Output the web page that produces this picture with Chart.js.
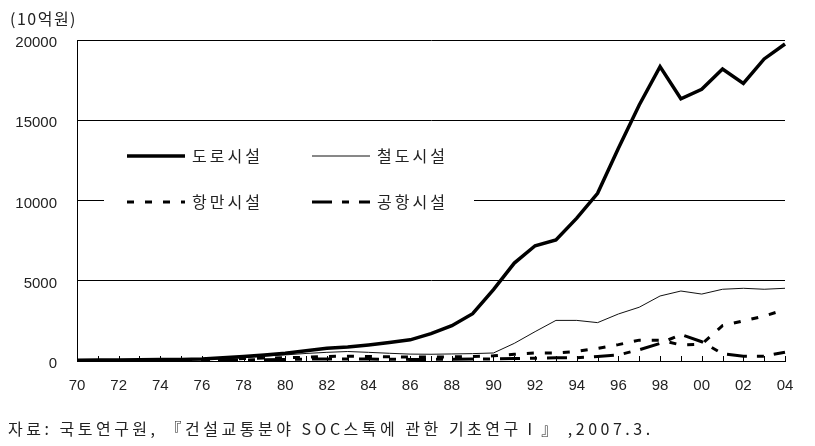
<!DOCTYPE html>
<html>
<head>
<meta charset="utf-8">
<script src="https://cdn.jsdelivr.net/npm/chart.js@4.4.1/dist/chart.umd.min.js"></script>
<style>
  body { margin: 0; background: #fff; }
  #wrap { position: relative; width: 815px; height: 446px; }
  #c { position: absolute; left: 0; top: 0; }
  .unit { position: absolute; left: 10px; top: 6px; font: 16px "Noto Sans CJK KR", sans-serif; color: #222; letter-spacing: 1.5px; }
  .src { position: absolute; left: 8px; top: 416px; font: 16px "Noto Sans CJK KR", sans-serif; color: #222; letter-spacing: 3.5px; white-space: nowrap; }
</style>
</head>
<body>
<div id="wrap">
  <canvas id="c" width="815" height="446"></canvas>
  <div class="unit">(10억원)</div>
  <div class="src">자료: 국토연구원, 『건설교통분야 SOC스톡에 관한 기초연구Ⅰ』 ,2007.3.</div>
</div>
<script>
// years 1970 - 2004, labels shown as two digits
const years = ["70","71","72","73","74","75","76","77","78","79","80","81","82","83","84","85","86","87","88","89",
               "90","91","92","93","94","95","96","97","98","99","00","01","02","03","04"];

// 단위: 10억원
const road =    [50,60,70,80,90,100,130,200,280,380,480,640,800,870,1000,1150,1320,1700,2200,2950,
                 4450,6100,7180,7540,8900,10450,13250,15950,18340,16340,16930,18190,17300,18820,19750];
const rail =    [20,30,40,50,60,70,90,130,200,300,380,470,540,590,540,480,430,420,440,460,
                 500,1100,1830,2530,2530,2390,2930,3350,4050,4360,4170,4470,4530,4470,4530];
const port =    [20,25,30,40,50,60,80,110,150,180,200,230,280,300,280,260,250,250,260,280,
                 320,420,500,500,600,780,1020,1300,1300,1000,1050,2200,2500,2800,3200];
const airport = [10,12,15,18,22,26,30,40,60,80,100,120,130,130,120,110,100,100,110,120,
                 130,150,170,200,200,280,380,700,1100,1650,1200,450,300,300,550];

const yTicks = [0, 5000, 10000, 15000, 20000];
const seriesNames = ["도로시설", "철도시설", "항만시설", "공항시설"];

const numFont = { family: "'Liberation Sans', 'Noto Sans CJK KR', sans-serif", size: 15 };

// small tick marks on the x axis, drawn inside the plot
const innerTicks = {
    id: "innerTicks",
    afterDatasetsDraw(chart) {
        const ctx = chart.ctx;
        const x = chart.scales.x;
        const bottom = chart.chartArea.bottom;
        ctx.save();
        ctx.strokeStyle = "#000";
        ctx.lineWidth = 1;
        for (let i = 1; i < years.length; i++) {
            const px = Math.round(x.getPixelForValue(i)) + 0.5;
            ctx.beginPath();
            ctx.moveTo(px, bottom);
            ctx.lineTo(px, bottom - 5);
            ctx.stroke();
        }
        ctx.restore();
    }
};

// legend box in the middle of the plot
const boxLegend = {
    id: "boxLegend",
    afterDraw(chart) {
        const ctx = chart.ctx;
        const ds = chart.data.datasets;
        const rows = [[0, 1], [2, 3]];
        const rowY = [156, 202];
        const colX = [127, 312];
        ctx.save();
        ctx.fillStyle = "#fff";
        ctx.fillRect(104, 132, 370, 90);
        rows.forEach((row, r) => {
            row.forEach((idx, c) => {
                const d = ds[idx];
                ctx.beginPath();
                ctx.strokeStyle = d.borderColor;
                ctx.lineWidth = d.borderWidth;
                ctx.setLineDash(d.borderDash || []);
                ctx.lineCap = "butt";
                ctx.moveTo(colX[c], rowY[r]);
                ctx.lineTo(colX[c] + 58, rowY[r]);
                ctx.stroke();
                ctx.setLineDash([]);
                ctx.fillStyle = "#222";
                ctx.font = "16px 'Noto Sans CJK KR', sans-serif";
                ctx.letterSpacing = "3px";
                ctx.textBaseline = "middle";
                ctx.fillText(d.label, colX[c] + 65, rowY[r]);
            });
        });
        ctx.restore();
    }
};

new Chart(document.getElementById("c"), {
    type: "line",
    data: {
        labels: years,
        datasets: [
            { label: seriesNames[0], data: road, borderColor: "#000", borderWidth: 3.5 },
            { label: seriesNames[1], data: rail, borderColor: "#111", borderWidth: 1 },
            { label: seriesNames[2], data: port, borderColor: "#000", borderWidth: 3, borderDash: [7, 11] },
            { label: seriesNames[3], data: airport, borderColor: "#000", borderWidth: 3, borderDash: [20, 10, 7, 10] }
        ]
    },
    options: {
        responsive: false,
        animation: false,
        events: [],
        elements: { point: { radius: 0 }, line: { tension: 0, borderCapStyle: "butt" } },
        layout: { padding: { left: 0, top: 40, right: 30, bottom: 0 } },
        plugins: { legend: { display: false }, tooltip: { enabled: false } },
        scales: {
            x: {
                offset: false,
                grid: { display: false },
                border: { display: true, color: "#000", width: 1 },
                ticks: {
                    autoSkip: false,
                    maxRotation: 0,
                    padding: 8,
                    color: "#222",
                    font: numFont,
                    callback: (v, i) => (i % 2 === 0 ? years[i] : "")
                },
                afterFit: s => { s.height = 85; }
            },
            y: {
                min: 0,
                max: 20000,
                afterBuildTicks: s => { s.ticks = yTicks.map(v => ({ value: v })); },
                grid: { color: "#000", lineWidth: 1, drawTicks: false },
                border: { display: true, color: "#000", width: 1 },
                ticks: { padding: 20, labelOffset: 3, color: "#222", font: numFont, callback: v => String(v) },
                afterFit: s => { s.width = 77; }
            }
        }
    },
    plugins: [innerTicks, boxLegend]
});
</script>
</body>
</html>
